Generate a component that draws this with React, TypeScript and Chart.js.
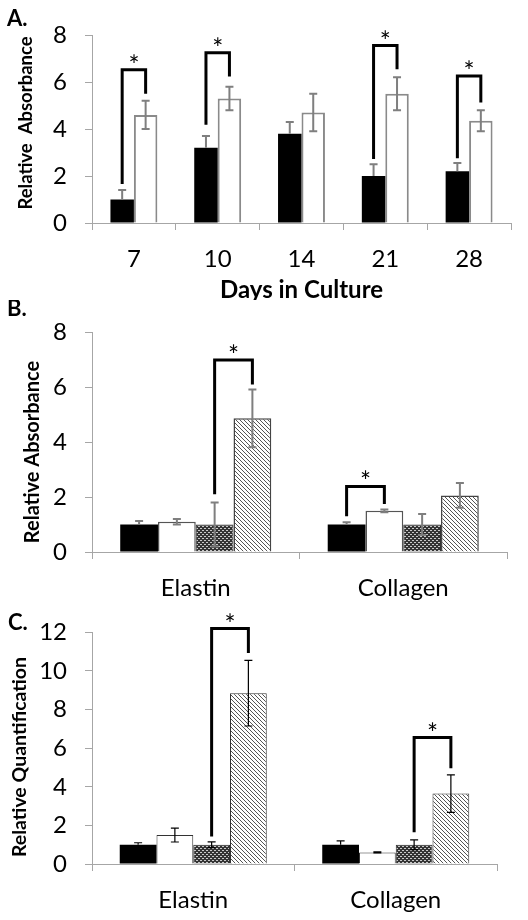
import React, { useEffect, useRef } from 'react';
import { Chart, registerables } from 'chart.js';

Chart.register(...registerables);

const FONT = 'Lato';

// ---------- Panel A data ----------
const daysLabels = ['7', '10', '14', '21', '28'];
const aBlack = [1.0, 3.2, 3.8, 2.0, 2.2];
const aBlackErr = [0.4, 0.5, 0.5, 0.5, 0.35];
const aWhite = [4.6, 5.3, 4.7, 5.5, 4.35];
const aWhiteErr = [0.6, 0.5, 0.8, 0.7, 0.45];
const aNoErr = [0, 0, 0, 0, 0];
// [category, fromDataset, toDataset, leftBottom, top, rightBottom]
const aBrackets = [
  [0, 0, 1, 1.66, 6.52, 5.5],
  [1, 0, 1, 4.18, 7.25, 6.23],
  [3, 0, 1, 2.72, 7.55, 6.54],
  [4, 0, 1, 2.76, 6.26, 5.13],
];

// ---------- Panel B data ----------
const proteinLabels = ['Elastin', 'Collagen'];
const b1 = [1.0, 1.0];
const b1Err = [0.13, 0.08];
const b2 = [1.1, 1.5];
const b2Err = [0.1, 0.05];
const b3 = [1.0, 1.0];
const b3Err = [0.8, 0.38];
const b4 = [4.87, 2.06];
const b4Err = [1.05, 0.45];
const bBrackets = [
  [0, 2, 3, 2.1, 6.99, 6.1],
  [1, 0, 1, 1.3, 2.39, 1.75],
];

// ---------- Panel C data ----------
const c1 = [1.0, 1.0];
const c1Err = [0.1, 0.2];
const c2 = [1.5, 0.6];
const c2Err = [0.36, 0.03];
const c3 = [1.0, 1.0];
const c3Err = [0.15, 0.25];
const c4 = [8.85, 3.65];
const c4Err = [1.7, 0.97];
const cBrackets = [
  [0, 2, 3, 1.43, 12.2, 10.93],
  [1, 2, 3, 1.65, 6.55, 4.96],
];
const noErr2 = [0, 0];

function makePattern(kind: string) {
  const c = document.createElement('canvas');
  const ctx = c.getContext('2d')!;
  if (kind === 'dots') {
    c.width = 4; c.height = 4;
    ctx.fillStyle = '#333';
    ctx.fillRect(0, 0, 4, 4);
    ctx.fillStyle = '#c8c8c8';
    ctx.fillRect(0, 0, 2, 1);
    ctx.fillRect(2, 2, 2, 1);
  } else {
    c.width = 4; c.height = 4;
    ctx.fillStyle = '#fff';
    ctx.fillRect(0, 0, 4, 4);
    ctx.fillStyle = '#555';
    for (let i = 0; i < 4; i++) ctx.fillRect(i, i, 1, 1);
  }
  return ctx.createPattern(c, 'repeat');
}

type PanelCfg = {
  height: number;
  area: { l: number; r: number; t: number; b: number };
  labels: string[];
  datasets: any[];
  errors: { plus: number[]; minus: number[] }[];
  brackets: number[][];
  yMax: number;
  catPct: number;
  errColor: string;
  errWidth: number;
  cap: number;
  panelLabel: { text: string; x: number; y: number };
  yTitle: { text: string; x: number; y: number; size: number };
  xTitle?: { text: string; y: number; size: number };
};

function buildChart(canvas: HTMLCanvasElement, cfg: PanelCfg) {
  const annot = {
    id: 'annot',
    afterDatasetsDraw(chart: any) {
      const ctx = chart.ctx;
      const ys = chart.scales.y;
      ctx.save();
      cfg.errors.forEach((err, di) => {
        const meta = chart.getDatasetMeta(di);
        const data = chart.data.datasets[di].data;
        meta.data.forEach((bar: any, j: number) => {
          const v = data[j];
          const up = err.plus[j];
          const dn = err.minus[j];
          const x = bar.x;
          const yt = ys.getPixelForValue(v + up);
          const yb = ys.getPixelForValue(v - dn);
          ctx.strokeStyle = cfg.errColor;
          ctx.lineWidth = cfg.errWidth;
          ctx.beginPath();
          ctx.moveTo(x, yt);
          ctx.lineTo(x, yb);
          ctx.moveTo(x - cfg.cap, yt);
          ctx.lineTo(x + cfg.cap, yt);
          if (dn > 0) {
            ctx.moveTo(x - cfg.cap, yb);
            ctx.lineTo(x + cfg.cap, yb);
          }
          ctx.stroke();
        });
      });
      cfg.brackets.forEach((br) => {
        const [cat, d1, d2, lb, top, rb] = br;
        const x1 = chart.getDatasetMeta(d1).data[cat].x;
        const x2 = chart.getDatasetMeta(d2).data[cat].x;
        const yTop = ys.getPixelForValue(top);
        ctx.strokeStyle = '#000';
        ctx.lineWidth = 3;
        ctx.lineJoin = 'miter';
        ctx.beginPath();
        ctx.moveTo(x1, ys.getPixelForValue(lb));
        ctx.lineTo(x1, yTop);
        ctx.lineTo(x2, yTop);
        ctx.lineTo(x2, ys.getPixelForValue(rb));
        ctx.stroke();
        ctx.fillStyle = '#000';
        ctx.font = `26px ${FONT}`;
        ctx.textAlign = 'center';
        ctx.textBaseline = 'alphabetic';
        ctx.fillText('*', (x1 + x2) / 2, yTop - 10 + 15);
      });
      ctx.restore();
    },
    afterDraw(chart: any) {
      const ctx = chart.ctx;
      ctx.save();
      ctx.fillStyle = '#000';
      ctx.font = `bold 22px ${FONT}`;
      ctx.textAlign = 'left';
      ctx.textBaseline = 'alphabetic';
      ctx.fillText(cfg.panelLabel.text, cfg.panelLabel.x, cfg.panelLabel.y);
      ctx.save();
      ctx.translate(cfg.yTitle.x, cfg.yTitle.y);
      ctx.rotate(-Math.PI / 2);
      ctx.font = `bold ${cfg.yTitle.size}px ${FONT}`;
      ctx.textAlign = 'center';
      ctx.textBaseline = 'middle';
      ctx.fillText(cfg.yTitle.text, 0, 0);
      ctx.restore();
      if (cfg.xTitle) {
        const ca = chart.chartArea;
        ctx.font = `bold ${cfg.xTitle.size}px ${FONT}`;
        ctx.textAlign = 'center';
        ctx.textBaseline = 'middle';
        ctx.fillText(cfg.xTitle.text, (ca.left + ca.right) / 2, cfg.xTitle.y);
      }
      ctx.restore();
    },
  };

  const { area, height } = cfg;
  return new Chart(canvas, {
    type: 'bar',
    data: { labels: cfg.labels, datasets: cfg.datasets },
    options: {
      responsive: false,
      animation: false,
      devicePixelRatio: 1,
      layout: { padding: { left: 0, right: 528 - area.r, top: area.t, bottom: 0 } },
      plugins: { legend: { display: false }, tooltip: { enabled: false } },
      datasets: { bar: { categoryPercentage: cfg.catPct, barPercentage: 1 } },
      scales: {
        x: {
          afterFit: (s: any) => { s.height = height - area.b; },
          grid: { drawOnChartArea: false, drawTicks: true, tickLength: 7, color: '#a6a6a6', offset: true },
          border: { color: '#a6a6a6', width: 1 },
          ticks: { color: '#000', font: { family: FONT, size: 24 }, padding: 15 },
        },
        y: {
          min: 0,
          max: cfg.yMax,
          afterFit: (s: any) => { s.width = area.l; },
          grid: { drawOnChartArea: false, drawTicks: true, tickLength: 7, color: '#a6a6a6' },
          border: { color: '#a6a6a6', width: 1 },
          ticks: { stepSize: 2, color: '#000', font: { family: FONT, size: 24 }, padding: 18 },
        },
      },
    },
    plugins: [annot],
  } as any);
}

function Panel({ top, cfgFn }: { top: number; cfgFn: () => PanelCfg }) {
  const ref = useRef<HTMLCanvasElement | null>(null);
  const cfg = cfgFn();
  useEffect(() => {
    if (!ref.current) return;
    const chart = buildChart(ref.current, cfgFn());
    return () => chart.destroy();
  }, []);
  return (
    <canvas
      ref={ref}
      width={528}
      height={cfg.height}
      style={{ position: 'absolute', left: 0, top, width: 528, height: cfg.height }}
    />
  );
}

const panelA = (): PanelCfg => ({
  height: 300,
  area: { l: 92, r: 511, t: 35, b: 223 },
  labels: daysLabels,
  datasets: [
    { data: aBlack, backgroundColor: '#000', borderWidth: 0 },
    { data: aWhite, backgroundColor: '#fff', borderColor: '#8a8a8a', borderWidth: 2 },
  ],
  errors: [
    { plus: aBlackErr, minus: aNoErr },
    { plus: aWhiteErr, minus: aWhiteErr },
  ],
  brackets: aBrackets,
  yMax: 8,
  catPct: 0.56,
  errColor: '#7f7f7f',
  errWidth: 2,
  cap: 4,
  panelLabel: { text: 'A.', x: 7, y: 26 },
  yTitle: { text: 'Relative  Absorbance', x: 26, y: 123, size: 18.5 },
  xTitle: { text: 'Days in Culture', y: 290, size: 24 },
});

const panelB = (): PanelCfg => ({
  height: 300,
  area: { l: 92, r: 507, t: 15, b: 252 },
  labels: proteinLabels,
  datasets: [
    { data: b1, backgroundColor: '#000', borderWidth: 0 },
    { data: b2, backgroundColor: '#fff', borderColor: '#555', borderWidth: 1.5 },
    { data: b3, backgroundColor: makePattern('dots'), borderColor: '#333', borderWidth: 1 },
    { data: b4, backgroundColor: makePattern('diag'), borderColor: '#444', borderWidth: 1.5 },
  ],
  errors: [
    { plus: b1Err, minus: noErr2 },
    { plus: b2Err, minus: b2Err },
    { plus: b3Err, minus: b3Err },
    { plus: b4Err, minus: b4Err },
  ],
  brackets: bBrackets,
  yMax: 8,
  catPct: 0.728,
  errColor: '#7f7f7f',
  errWidth: 2,
  cap: 4,
  panelLabel: { text: 'B.', x: 7, y: 16 },
  yTitle: { text: 'Relative Absorbance', x: 33, y: 152, size: 20 },
});

const panelC = (): PanelCfg => ({
  height: 320,
  area: { l: 92, r: 497, t: 28, b: 264 },
  labels: proteinLabels,
  datasets: [
    { data: c1, backgroundColor: '#000', borderWidth: 0 },
    { data: c2, backgroundColor: '#fff', borderColor: '#333', borderWidth: 1 },
    { data: c3, backgroundColor: makePattern('dots'), borderColor: '#333', borderWidth: 1 },
    { data: c4, backgroundColor: makePattern('diag'), borderColor: '#333', borderWidth: 1 },
  ],
  errors: [
    { plus: c1Err, minus: noErr2 },
    { plus: c2Err, minus: c2Err },
    { plus: c3Err, minus: c3Err },
    { plus: c4Err, minus: c4Err },
  ],
  brackets: cBrackets,
  yMax: 12,
  catPct: 0.726,
  errColor: '#000',
  errWidth: 1.2,
  cap: 4,
  panelLabel: { text: 'C.', x: 8, y: 30 },
  yTitle: { text: 'Relative Quantification', x: 20, y: 157, size: 19.5 },
});

export default function App() {
  return (
    <div style={{ position: 'absolute', left: 0, top: 0, width: 528, height: 920, background: '#fff' }}>
      <Panel top={0} cfgFn={panelA} />
      <Panel top={300} cfgFn={panelB} />
      <Panel top={600} cfgFn={panelC} />
    </div>
  );
}
